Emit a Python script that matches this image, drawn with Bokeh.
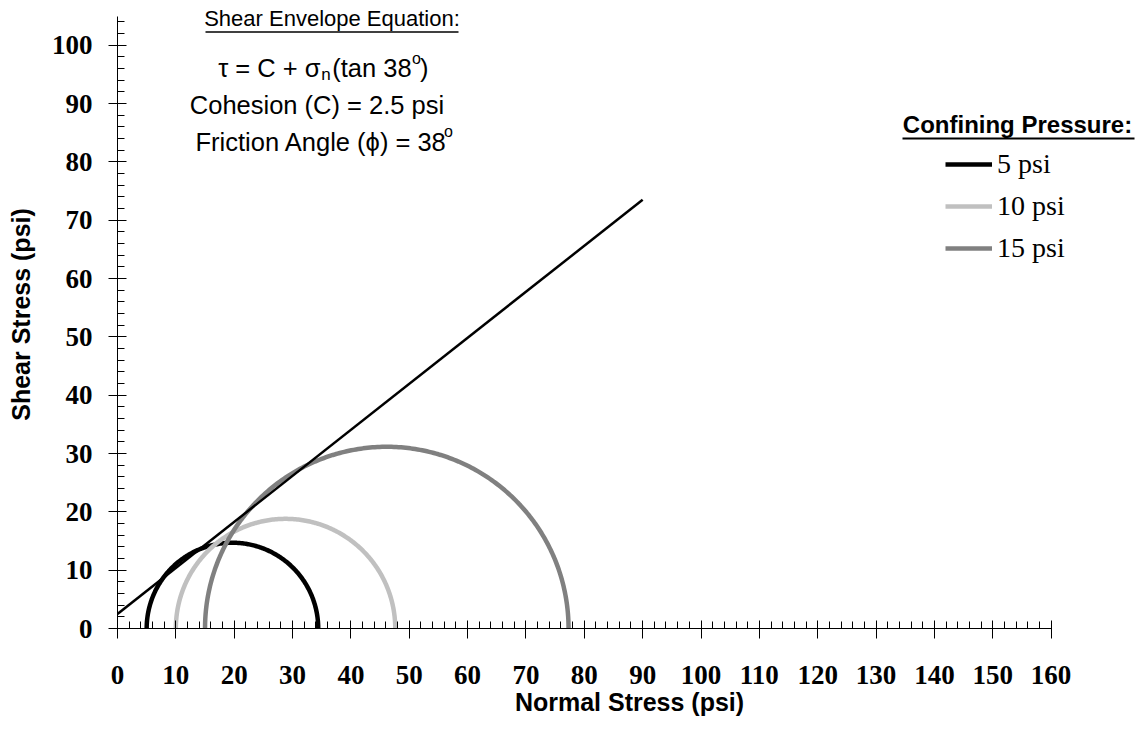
import numpy as np
from bokeh.plotting import figure
from bokeh.models import (Range1d, SingleIntervalTicker, Label, Legend, LegendItem,
                          BoxAnnotation)
from bokeh.embed import file_html
from bokeh.resources import INLINE

# ---------------- data ----------------
pressures = ["5 psi", "10 psi", "15 psi"]
sigma3 = [5.0, 10.0, 15.0]          # minor principal stress (psi)
sigma1 = [34.4, 47.6, 77.3]         # major principal stress (psi)
circle_colors = ["#000000", "#c0c0c0", "#808080"]

env_x = [0.0, 90.0]                 # shear envelope
env_y = [2.5, 73.5]

x_ticks_interval = 10
y_ticks_interval = 10

# ---------------- layout ----------------
W, H = 1141, 738
BL, BB = 117, 110
SX, SY = 5.835, 5.833
XEND = (W - BL) / SX
YEND = (H - BB) / SY
PX0, PY0 = BL, (H - BB)
TXT_SHIFT = -9


def dx(px):
    return (px - PX0) / SX


def dy(py):
    return (PY0 - py) / SY


p = figure(width=W, height=H, output_backend="svg", toolbar_location=None,
           x_range=Range1d(0, XEND), y_range=Range1d(0, YEND),
           min_border_left=BL, min_border_right=0, min_border_top=0,
           min_border_bottom=BB)
p.outline_line_color = None
p.xgrid.visible = False
p.ygrid.visible = False
p.background_fill_color = "white"
p.border_fill_color = "white"

# circles
theta = np.linspace(0, np.pi, 241)
renderers = []
for s3, s1, col in zip(sigma3, sigma1, circle_colors):
    c = (s1 + s3) / 2.0
    r = (s1 - s3) / 2.0
    rr = p.line(c + r * np.cos(theta), r * np.sin(theta), line_color=col,
                line_width=4.5)
    renderers.append(rr)

# envelope
p.line(env_x, env_y, line_color="black", line_width=2.5)

# axes
for ax, interval, bnd in ((p.xaxis[0], x_ticks_interval, (0, 160)),
                          (p.yaxis[0], y_ticks_interval, (0, 105))):
    ax.ticker = SingleIntervalTicker(interval=interval, num_minor_ticks=5)
    ax.bounds = bnd
    ax.axis_line_color = "black"
    ax.axis_line_width = 1
    ax.major_tick_line_color = "black"
    ax.minor_tick_line_color = "black"
    ax.major_label_text_font = "Liberation Serif"
    ax.major_label_text_font_style = "bold"
    ax.major_label_text_font_size = "27px"
    ax.major_label_text_color = "black"
    ax.axis_label_text_font = "Liberation Sans"
    ax.axis_label_text_font_style = "bold"
    ax.axis_label_text_font_size = "25px"
    ax.axis_label_text_color = "black"
    ax.minor_tick_out = 0
    ax.minor_tick_in = 7

p.xaxis.major_tick_in = 8
p.xaxis.major_tick_out = 10
p.xaxis.major_label_standoff = 27
p.xaxis.axis_label = "Normal Stress (psi)"
p.xaxis.axis_label_standoff = 1

p.yaxis.major_tick_in = 9
p.yaxis.major_tick_out = 9
p.yaxis.major_label_standoff = 16
p.yaxis.axis_label = "Shear Stress (psi)"
p.yaxis.axis_label_standoff = 14

# legend
legend = Legend(items=[LegendItem(label=lab, renderers=[r])
                       for lab, r in zip(pressures, renderers)],
                location=(945 - PX0, (PY0 - 248.3) - 16),
                label_text_font="Liberation Serif", label_text_font_size="28px",
                label_text_color="black",
                glyph_width=47, glyph_height=32, label_height=32,
                spacing=10, padding=0, margin=0, label_standoff=5,
                border_line_alpha=0, background_fill_alpha=0)
p.add_layout(legend)


def lab(text, px, py, size, align="left", style="normal"):
    p.add_layout(Label(x=dx(px), y=dy(py + TXT_SHIFT), text=text,
                       text_font="Liberation Sans",
                       text_font_size=size, text_font_style=style,
                       text_align=align, text_baseline="alphabetic",
                       text_color="black"))


def underline(x0, x1, y, t):
    p.add_layout(BoxAnnotation(left=dx(x0), right=dx(x1), bottom=dy(y + t / 2),
                               top=dy(y - t / 2), fill_color="black",
                               fill_alpha=1, line_color=None))


# equation block
lab("Shear Envelope Equation:", 331.5, 27.3, "22px", align="center")
underline(205, 458, 31.5, 1.5)
lab("\u03c4 = C + \u03c3", 320, 76.7, "25.5px", align="right")
lab("n", 320.7, 83.3, "17px")
lab("(tan 38", 331.7, 76.7, "25.5px")
lab("o", 411.5, 66.5, "16px")
lab(")", 419.5, 76.7, "25.5px")
lab("Cohesion (C) = 2.5 psi", 316.5, 113.3, "25.5px", align="center")
lab("Friction Angle (\u03d5) = 38", 446.7, 150, "25.5px", align="right")
lab("o", 443.5, 139.5, "16px")

# legend title
lab("Confining Pressure:", 1017, 132.7, "24px", align="center", style="bold")
underline(902, 1134, 138, 2)

open("out.html", "w").write(file_html(p, INLINE))
